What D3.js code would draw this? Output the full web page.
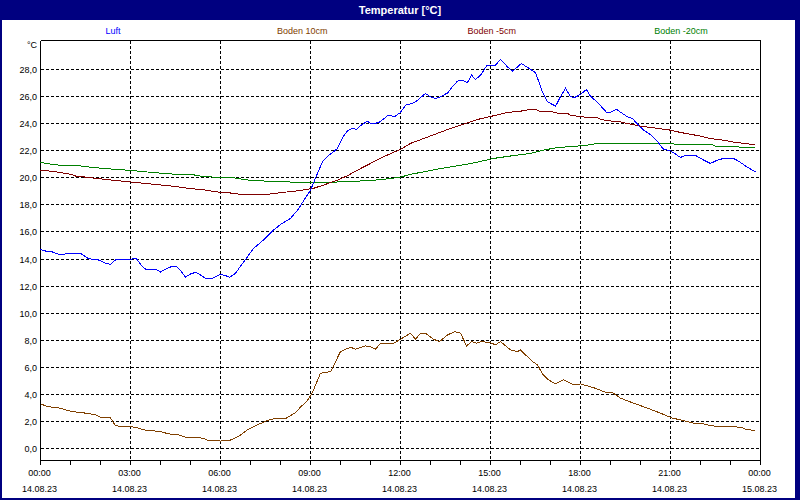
<!DOCTYPE html>
<html><head><meta charset="utf-8">
<script src="https://cdn.jsdelivr.net/npm/d3@7"></script>
<style>html,body{margin:0;padding:0;background:#fff}svg{display:block}</style>
</head><body>
<script>
// ---- data (hours after 14.08.23 00:00, values °C) ----
const seriesNames = ["Luft","Boden 10cm","Boden -5cm","Boden -20cm"];
const seriesColors = ["#0000ff","#804000","#800000","#008000"];

const luftT = [0.00,0.17,0.33,0.67,0.83,1.00,1.33,1.60,1.93,2.17,2.33,2.50,2.90,3.20,3.40,3.50,3.83,4.00,4.17,4.40,4.53,4.70,4.83,5.00,5.17,5.33,5.50,5.73,6.00,6.17,6.30,6.50,6.67,6.90,7.10,7.33,7.57,7.77,8.00,8.33,8.57,8.77,9.00,9.23,9.40,9.57,9.77,9.90,10.07,10.23,10.40,10.53,10.73,10.90,11.00,11.27,11.57,11.83,12.00,12.17,12.40,12.57,12.83,13.00,13.17,13.33,13.57,13.73,13.90,14.07,14.23,14.37,14.50,14.67,14.87,15.17,15.33,15.57,15.73,16.03,16.30,16.40,16.50,16.73,16.90,17.17,17.33,17.50,17.67,17.80,18.00,18.20,18.33,18.57,18.87,19.00,19.20,19.40,19.57,19.73,19.93,20.10,20.33,20.57,20.77,21.00,21.17,21.33,21.50,21.83,22.10,22.33,22.57,22.77,23.10,23.27,23.57,23.83];
const luftV = [14.70,14.59,14.57,14.30,14.37,14.42,14.42,14.02,13.93,13.68,13.60,13.93,13.98,14.02,13.43,13.26,13.24,13.04,13.24,13.48,13.48,13.06,12.67,12.89,13.02,12.82,12.58,12.58,12.87,12.77,12.65,12.94,13.48,14.17,14.79,15.20,15.70,16.14,16.55,17.00,17.60,18.30,19.09,20.32,21.18,21.60,21.92,22.17,22.98,23.47,23.65,23.57,23.96,24.18,24.01,24.06,24.58,24.55,24.83,25.37,25.49,25.73,26.23,25.98,25.86,25.98,26.27,26.72,27.14,27.21,27.04,27.58,27.26,27.58,28.27,28.32,28.74,28.19,27.87,28.44,28.07,27.90,27.78,26.35,25.61,25.29,25.98,26.60,25.98,25.93,26.16,26.52,26.03,25.56,24.83,24.83,25.05,24.75,24.50,24.38,23.89,23.52,23.20,22.66,22.10,21.99,21.75,21.50,21.65,21.65,21.31,21.06,21.31,21.43,21.43,21.23,20.77,20.44];

const boden10T = [0.00,0.23,0.67,0.83,1.10,1.40,1.57,1.77,2.00,2.33,2.50,2.73,3.17,3.43,3.67,4.00,4.27,4.57,4.83,5.40,5.57,6.00,6.10,6.33,6.60,6.93,7.23,7.57,7.83,8.17,8.50,8.67,8.90,9.07,9.33,9.67,10.00,10.33,10.50,10.83,11.00,11.17,11.33,11.77,12.00,12.33,12.50,12.67,12.83,13.10,13.30,13.57,13.80,14.00,14.20,14.37,14.53,14.70,15.00,15.17,15.33,15.67,15.90,16.00,16.40,16.57,16.73,16.93,17.17,17.43,17.77,18.00,18.43,18.83,19.07,19.33,19.77,20.23,20.67,21.07,21.43,21.77,22.10,22.33,22.77,23.33,23.50,23.83];
const boden10V = [3.30,3.10,2.98,2.86,2.71,2.66,2.56,2.54,2.32,2.27,1.68,1.62,1.58,1.38,1.33,1.25,1.08,1.03,0.84,0.77,0.62,0.55,0.59,0.62,0.89,1.43,1.75,2.07,2.24,2.21,2.66,3.06,3.55,4.15,5.56,5.68,7.16,7.48,7.34,7.58,7.53,7.34,7.78,7.78,8.07,8.52,8.07,8.52,8.52,8.07,7.90,8.39,8.63,8.52,7.58,7.90,7.78,7.90,7.82,7.65,7.90,7.28,7.16,7.28,6.42,6.18,5.51,5.07,4.77,5.07,4.70,4.77,4.50,4.16,4.13,3.72,3.35,2.98,2.61,2.24,2.07,1.87,1.82,1.68,1.62,1.58,1.43,1.31];

const boden5T = [0.00,0.53,1.03,1.17,1.70,2.17,2.60,3.27,3.83,4.37,4.93,5.50,5.93,6.37,6.60,6.93,7.57,8.00,8.57,9.10,9.43,9.90,10.23,10.57,11.00,11.43,12.00,12.33,12.77,13.23,13.67,14.10,14.57,15.10,15.57,16.00,16.33,16.57,16.67,17.07,17.27,17.57,17.67,17.93,18.23,18.57,18.67,19.00,19.33,19.67,20.00,20.57,21.00,21.33,22.00,22.33,22.77,23.10,23.57,23.83];
const boden5V = [20.57,20.44,20.25,20.13,20.00,19.88,19.78,19.63,19.51,19.39,19.22,19.09,18.94,18.87,18.80,18.78,18.78,18.90,19.04,19.22,19.46,19.83,20.15,20.57,21.06,21.55,22.10,22.54,22.90,23.28,23.65,23.96,24.31,24.58,24.83,24.92,25.05,25.00,24.87,24.87,24.75,24.75,24.60,24.55,24.45,24.43,24.31,24.20,24.13,23.96,23.82,23.65,23.52,23.35,23.08,22.90,22.78,22.63,22.51,22.44];

const boden20T = [0.00,0.17,0.60,1.27,1.70,2.50,3.00,3.50,4.10,4.60,5.20,5.33,5.77,6.43,6.70,7.00,7.77,8.67,9.67,10.23,10.90,11.43,12.00,12.33,12.77,13.23,13.67,14.10,14.57,15.10,15.67,16.33,16.77,17.00,17.27,17.77,18.23,18.33,19.43,21.00,21.33,22.40,22.50,23.27,23.33,23.83];
const boden20V = [21.14,21.06,20.94,20.89,20.77,20.62,20.55,20.44,20.32,20.25,20.20,20.13,20.05,20.00,19.90,19.81,19.73,19.66,19.66,19.73,19.78,19.88,20.05,20.25,20.44,20.64,20.81,20.96,21.16,21.43,21.61,21.80,22.04,22.14,22.24,22.32,22.41,22.49,22.54,22.51,22.47,22.44,22.32,22.29,22.24,22.24];

const yTicks = [0,2,4,6,8,10,12,14,16,18,20,22,24,26,28];
const chartTitle = "Temperatur [°C]";
const unitLabel = "°C";

// ---- drawing ----
const W = 800, H = 500;
const start = new Date(2023, 7, 14, 0, 0);
const end = new Date(2023, 7, 15, 0, 0);
const toDate = h => new Date(start.getTime() + h * 3600e3);

const svg = d3.select("body").append("svg").attr("width", W).attr("height", H)
  .style("font-family", "'Liberation Sans', Arial, sans-serif");

// frame / background
svg.append("rect").attr("width", W).attr("height", H).attr("fill", "#000080");
svg.append("rect").attr("x", 2).attr("y", 20).attr("width", 793).attr("height", 478).attr("fill", "#ffffff");

svg.append("text").attr("x", W / 2).attr("y", 13.5).attr("text-anchor", "middle")
  .attr("fill", "#fff").attr("font-weight", "bold").attr("font-size", 11).text(chartTitle);

const x = d3.scaleTime().domain([start, end]).range([40.5, 760.5]);
const y = d3.scaleLinear().domain([0, 28]).range([448.5, 69.5]);
const plotTop = 40.5, plotBottom = 460.5;

// legend
const lx = d3.scalePoint().domain(seriesNames).range([113, 681]);
svg.append("g").selectAll("text").data(seriesNames).join("text")
  .attr("x", d => lx(d)).attr("y", 34).attr("text-anchor", "middle")
  .attr("font-size", 9).attr("fill", (d, i) => seriesColors[i]).text(d => d);

// grid
const grid = svg.append("g").attr("stroke", "#000").attr("stroke-width", 1)
  .attr("stroke-dasharray", "3,2").attr("shape-rendering", "crispEdges");
grid.selectAll("line.h").data(yTicks).join("line").attr("class", "h")
  .attr("x1", 41).attr("x2", 760).attr("y1", d => y(d)).attr("y2", d => y(d));
const majorTicks = x.ticks(d3.timeHour.every(3));
grid.selectAll("line.v").data(majorTicks.slice(1, -1)).join("line").attr("class", "v")
  .attr("x1", d => x(d)).attr("x2", d => x(d)).attr("y1", 41).attr("y2", 460);

// frame lines
const fr = svg.append("g").attr("stroke", "#000").attr("shape-rendering", "crispEdges");
fr.append("line").attr("x1", 40.5).attr("x2", 40.5).attr("y1", plotTop).attr("y2", 461.5);
fr.append("line").attr("x1", 40.5).attr("x2", 760.5).attr("y1", plotTop).attr("y2", plotTop);
fr.append("line").attr("x1", 760.5).attr("x2", 760.5).attr("y1", plotTop).attr("y2", plotBottom);
fr.append("line").attr("x1", 40.5).attr("x2", 760.5).attr("y1", plotBottom).attr("y2", plotBottom);
fr.selectAll("line.t").data(x.ticks(d3.timeHour.every(1))).join("line").attr("class", "t")
  .attr("x1", d => x(d)).attr("x2", d => x(d)).attr("y1", plotBottom).attr("y2", plotBottom + 4);

// y labels
const fmtY = d => d.toFixed(1).replace(".", ",");
svg.append("g").selectAll("text").data(yTicks).join("text")
  .attr("x", 37).attr("y", d => y(d) + 3.5).attr("text-anchor", "end")
  .attr("font-size", 9).attr("fill", "#000").text(fmtY);
svg.append("text").attr("x", 37).attr("y", 47.5).attr("text-anchor", "end")
  .attr("font-size", 9).attr("fill", "#000").text(unitLabel);

// x labels
const fmtT = d3.timeFormat("%H:%M"), fmtD = d3.timeFormat("%d.%m.%y");
const xl = svg.append("g").attr("font-size", 9).attr("fill", "#000").attr("text-anchor", "middle");
xl.selectAll("text.t").data(majorTicks).join("text").attr("class", "t")
  .attr("x", d => x(d) - 1).attr("y", 476).text(fmtT);
xl.selectAll("text.d").data(majorTicks).join("text").attr("class", "d")
  .attr("x", d => x(d) - 1).attr("y", 492).text(fmtD);

// series
const series = [[luftT, luftV], [boden10T, boden10V], [boden5T, boden5V], [boden20T, boden20V]];
const line = d3.line().x(d => x(toDate(d[0]))).y(d => y(d[1])).curve(d3.curveLinear);
const drawOrder = [3, 2, 1, 0];
drawOrder.forEach(i => {
  const pts = series[i][0].map((t, k) => [t, series[i][1][k]]);
  svg.append("path").datum(pts).attr("d", line).attr("fill", "none")
    .attr("stroke", seriesColors[i]).attr("stroke-width", 1).attr("shape-rendering", "crispEdges");
});
</script>
</body></html>
